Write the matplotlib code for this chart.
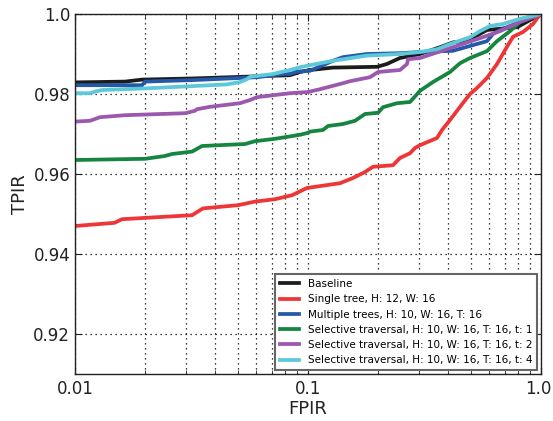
import matplotlib
matplotlib.use("Agg")
import matplotlib.pyplot as plt
import matplotlib.transforms as mtransforms
from matplotlib.ticker import FixedLocator, FixedFormatter, LogLocator, NullFormatter

# ROC-style curves: false positive identification rate vs true positive identification rate
baseline_fpir = [0.01, 0.0164, 0.0194, 0.0327, 0.0837, 0.0924, 0.102, 0.128, 0.198, 0.218,
                 0.248, 0.3025, 0.369, 0.419, 0.463, 0.531, 0.586, 0.79, 1.0]
baseline_tpir = [0.9829, 0.9831, 0.9836, 0.9839, 0.9847, 0.9855, 0.9860, 0.9866, 0.9868, 0.9875,
                 0.9890, 0.9900, 0.9917, 0.9929, 0.9932, 0.9946, 0.9960, 0.9967, 1.0]

single_fpir = [0.01, 0.0148, 0.0159, 0.0318, 0.0354, 0.0501, 0.0592, 0.0722, 0.0854, 0.099,
               0.1372, 0.156, 0.1756, 0.1901, 0.2317, 0.2482, 0.2741, 0.2879, 0.3025, 0.3578,
               0.3759, 0.4069, 0.4493, 0.496, 0.5313, 0.5864, 0.6474, 0.7146, 0.7583, 0.837,
               0.924, 0.9707, 1.0]
single_tpir = [0.9470, 0.9478, 0.9487, 0.9497, 0.9514, 0.9522, 0.9531, 0.9537, 0.9547, 0.9565,
               0.9577, 0.9590, 0.9605, 0.9618, 0.9622, 0.9640, 0.9652, 0.9665, 0.9672, 0.9690,
               0.9710, 0.9735, 0.9768, 0.9800, 0.9815, 0.9840, 0.9875, 0.9918, 0.9943, 0.9955,
               0.9975, 0.9992, 1.0]

multi_fpir = [0.01, 0.0194, 0.02, 0.0327, 0.0604, 0.0781, 0.0837, 0.0897, 0.102, 0.128,
              0.141, 0.179, 0.248, 0.3025, 0.419, 0.531, 0.586, 0.622, 0.667, 0.8125, 1.0]
multi_tpir = [0.9822, 0.9822, 0.9831, 0.9835, 0.9842, 0.9850, 0.9850, 0.9856, 0.9858, 0.9883,
              0.9892, 0.9900, 0.9902, 0.9905, 0.9908, 0.9925, 0.9932, 0.9950, 0.9960, 0.9980, 1.0]

sel1_fpir = [0.01, 0.02, 0.0243, 0.0261, 0.0318, 0.0351, 0.0537, 0.0592, 0.0722, 0.0924,
             0.1, 0.102, 0.116, 0.1218, 0.1413, 0.1591, 0.1756, 0.1998, 0.2098, 0.241,
             0.2741, 0.3025, 0.344, 0.4069, 0.4493, 0.496, 0.586, 0.647, 0.736, 0.8125, 1.0]
sel1_tpir = [0.9635, 0.9638, 0.9645, 0.9650, 0.9656, 0.9670, 0.9675, 0.9682, 0.9688, 0.9698,
             0.9703, 0.9706, 0.9710, 0.9720, 0.9725, 0.9733, 0.9750, 0.9753, 0.9767, 0.9777,
             0.9780, 0.9808, 0.9830, 0.9855, 0.9877, 0.9890, 0.9907, 0.9932, 0.9957, 0.9980, 1.0]

sel2_fpir = [0.01, 0.0116, 0.0128, 0.0164, 0.0297, 0.0327, 0.0334, 0.038, 0.0511, 0.0564,
             0.0604, 0.0837, 0.1, 0.1126, 0.1372, 0.1515, 0.1845, 0.1998, 0.2482, 0.2661,
             0.2687, 0.3025, 0.419, 0.531, 0.667, 0.8125, 1.0]
sel2_tpir = [0.9731, 0.9733, 0.9742, 0.9747, 0.9752, 0.9758, 0.9762, 0.9768, 0.9777, 0.9785,
             0.9792, 0.9802, 0.9805, 0.9812, 0.9825, 0.9832, 0.9842, 0.9855, 0.9860, 0.9875,
             0.9887, 0.9890, 0.9917, 0.9937, 0.9957, 0.9980, 1.0]

sel4_fpir = [0.01, 0.0116, 0.0122, 0.0131, 0.02, 0.0327, 0.0449, 0.0511, 0.0547, 0.0564,
             0.0708, 0.0837, 0.0924, 0.102, 0.128, 0.179, 0.248, 0.3025, 0.358, 0.407,
             0.496, 0.547, 0.604, 0.687, 0.8125, 1.0]
sel4_tpir = [0.9802, 0.9802, 0.9806, 0.9810, 0.9814, 0.9820, 0.9824, 0.9830, 0.9837, 0.9843,
             0.9850, 0.9860, 0.9867, 0.9872, 0.9883, 0.9896, 0.9900, 0.9905, 0.9912, 0.9925,
             0.9942, 0.9957, 0.9970, 0.9975, 0.9988, 1.0]

labels = ["Baseline",
          "Single tree, H: 12, W: 16",
          "Multiple trees, H: 10, W: 16, T: 16",
          "Selective traversal, H: 10, W: 16, T: 16, t: 1",
          "Selective traversal, H: 10, W: 16, T: 16, t: 2",
          "Selective traversal, H: 10, W: 16, T: 16, t: 4"]
colors = ["#1c1c1c", "#ee3636", "#2459a8", "#168540", "#9c58ae", "#5cc8da"]

x_tick_values = [0.01, 0.1, 1.0]
x_tick_labels = ["0.01", "0.1", "1.0"]
y_tick_values = [0.92, 0.94, 0.96, 0.98, 1.0]
y_tick_labels = ["0.92", "0.94", "0.96", "0.98", "1.0"]

series = [(baseline_fpir, baseline_tpir), (single_fpir, single_tpir),
          (multi_fpir, multi_tpir), (sel1_fpir, sel1_tpir),
          (sel2_fpir, sel2_tpir), (sel4_fpir, sel4_tpir)]

fig = plt.figure(figsize=(5.53, 4.21), dpi=100)
ax = fig.add_axes([75 / 553, 47 / 421, 466 / 553, 360 / 421])

for (xs, ys), lab, col in zip(series, labels, colors):
    ax.plot(xs, ys, color=col, lw=2.7, label=lab, solid_joinstyle="round")

ax.set_xscale("log")
ax.set_xlim(0.01, 1.0)
ax.set_ylim(0.91, 1.0)

ax.xaxis.set_major_locator(FixedLocator(x_tick_values))
ax.xaxis.set_major_formatter(FixedFormatter(x_tick_labels))
ax.xaxis.set_minor_locator(LogLocator(base=10, subs=range(2, 10)))
ax.xaxis.set_minor_formatter(NullFormatter())
ax.yaxis.set_major_locator(FixedLocator(y_tick_values))
ax.yaxis.set_major_formatter(FixedFormatter(y_tick_labels))

ax.tick_params(which="both", direction="in", top=True, right=True, labelsize=12,
               color="#222222", labelcolor="#222222")
ax.tick_params(which="major", length=5)
ax.tick_params(which="minor", length=3)
ax.tick_params(axis="x", which="major", pad=4)
ax.tick_params(axis="y", which="major", pad=3.5)

ax.grid(True, which="major", axis="both", color="black", linestyle=(0, (1, 3)), lw=0.9)
ax.grid(True, which="minor", axis="x", color="black", linestyle=(0, (1, 3)), lw=0.9)

for sp in ax.spines.values():
    sp.set_color("#222222")
    sp.set_linewidth(1.0)

ax.set_xlabel("FPIR", fontsize=13, color="#222222", labelpad=2)
ax.set_ylabel("TPIR", fontsize=13, color="#222222", labelpad=3)

# keep the rightmost x tick label inside the canvas
fig.canvas.draw()
last_label = ax.get_xticklabels()[-1]
last_label.set_transform(last_label.get_transform() +
                         mtransforms.ScaledTranslation(-3 / 100, 0, fig.dpi_scale_trans))

leg = ax.legend(loc="lower right", fontsize=7.5, fancybox=False, framealpha=1,
                edgecolor="#666666", handlelength=1.8, handletextpad=0.85,
                borderaxespad=0.4, labelspacing=0.5, borderpad=0.45)
leg.get_frame().set_linewidth(1.5)
for line in leg.get_lines():
    line.set_linewidth(2.7)

fig.savefig("out.png", dpi=100)
